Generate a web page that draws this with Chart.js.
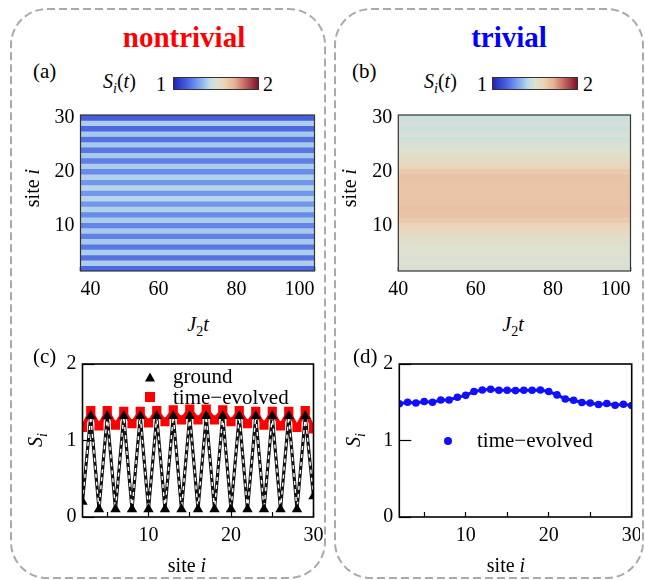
<!DOCTYPE html>
<html>
<head>
<meta charset="utf-8">
<script src="https://cdn.jsdelivr.net/npm/chart.js@4.4.1/dist/chart.umd.min.js"></script>
<style>
    body { margin: 0; background: #fff; }
    #fig {
        position: relative; width: 645px; height: 580px; overflow: hidden;
        font-family: 'Liberation Serif', 'Tinos', 'Times New Roman', 'DejaVu Serif', serif; color: #000;
    }
    #fig canvas, #fig svg { position: absolute; }
    .t { position: absolute; white-space: nowrap; line-height: 1; }
    .c { transform: translate(-50%, -50%); }
    .l { transform: translateY(-50%); }
    .rot { transform: translate(-50%, -50%) rotate(-90deg); }
    .cbar { position: absolute; height: 13px; border: 1px solid #333; box-sizing: border-box; }
    .tri { position: absolute; width: 0; height: 0; border-left: 5px solid transparent;
           border-right: 5px solid transparent; border-bottom: 9px solid #000; transform: translate(-50%, -50%); }
    .sq { position: absolute; width: 10px; height: 10px; background: #f00; transform: translate(-50%, -50%); }
    .dot { position: absolute; width: 8px; height: 8px; border-radius: 50%; background: #1010ff; transform: translate(-50%, -50%); }
</style>
</head>
<body>
<div id="fig">
    <svg width="645" height="580">
        <rect x="11" y="9" width="314" height="569" rx="36" fill="none" stroke="#aaa" stroke-width="2" stroke-dasharray="8 4"/>
        <rect x="335" y="9" width="308" height="569" rx="36" fill="none" stroke="#aaa" stroke-width="2" stroke-dasharray="8 4"/>
    </svg>

    <canvas id="heatA" width="305" height="200" style="left:20px;top:105px"></canvas>
    <canvas id="heatB" width="305" height="200" style="left:335px;top:105px"></canvas>
    <canvas id="lineC" width="305" height="210" style="left:20px;top:354px"></canvas>
    <canvas id="lineD" width="305" height="210" style="left:335px;top:354px"></canvas>

    <div class="t c" style="left:184px;top:37px;font-size:29px;font-weight:bold;color:#f00">nontrivial</div>
    <div class="t c" style="left:509px;top:37px;font-size:29px;font-weight:bold;color:#00f">trivial</div>

    <div class="t l" style="left:33px;top:71px;font-size:21px">(a)</div>
    <div class="t l" style="left:352px;top:71px;font-size:21px">(b)</div>
    <div class="t l" style="left:33px;top:356px;font-size:21px">(c)</div>
    <div class="t l" style="left:353px;top:356px;font-size:21px">(d)</div>

    <!-- colour bars -->
    <div class="t l" style="left:103px;top:83px;font-size:20px"><i>S<sub style="font-size:14px">i</sub></i>(<i>t</i>)</div>
    <div class="t c" style="left:161px;top:84px;font-size:20px">1</div>
    <div class="cbar" id="cbarA" style="left:173px;top:77px;width:86px"></div>
    <div class="t c" style="left:268px;top:84px;font-size:20px">2</div>

    <div class="t l" style="left:424px;top:83px;font-size:20px"><i>S<sub style="font-size:14px">i</sub></i>(<i>t</i>)</div>
    <div class="t c" style="left:482px;top:84px;font-size:20px">1</div>
    <div class="cbar" id="cbarB" style="left:492px;top:77px;width:86px"></div>
    <div class="t c" style="left:588px;top:84px;font-size:20px">2</div>

    <!-- axis titles -->
    <div class="t rot" style="left:32px;top:188px;font-size:20px">site <i>i</i></div>
    <div class="t rot" style="left:349px;top:188px;font-size:20px">site <i>i</i></div>
    <div class="t c" style="left:198px;top:326px;font-size:20px"><i>J</i><sub style="font-size:14px">2</sub><i>t</i></div>
    <div class="t c" style="left:513px;top:326px;font-size:20px"><i>J</i><sub style="font-size:14px">2</sub><i>t</i></div>
    <div class="t rot" style="left:37px;top:440px;font-size:20px"><i>S<sub style="font-size:14px">i</sub></i></div>
    <div class="t rot" style="left:355px;top:440px;font-size:20px"><i>S<sub style="font-size:14px">i</sub></i></div>
    <div class="t c" style="left:187px;top:565px;font-size:20px">site <i>i</i></div>
    <div class="t c" style="left:506px;top:565px;font-size:20px">site <i>i</i></div>

    <!-- legends -->
    <div class="tri" style="left:150px;top:377px"></div>
    <div class="t l" style="left:173px;top:376px;font-size:21px">ground</div>
    <div class="sq" style="left:150px;top:397px"></div>
    <div class="t l" style="left:173px;top:397px;font-size:21px">time−evolved</div>
    <div class="dot" style="left:448px;top:441px"></div>
    <div class="t l" style="left:477px;top:440px;font-size:21px">time−evolved</div>
</div>

<script>
// ---- data ----
const sites = [2, 3, 4, 5, 6, 7, 8, 9, 10, 11, 12, 13, 14, 15, 16,
               17, 18, 19, 20, 21, 22, 23, 24, 25, 26, 27, 28, 29, 30];

// (c) ground state, nontrivial
const groundS = [0.20, 1.32, 0.10, 1.32, 0.10, 1.32, 0.10, 1.32, 0.10, 1.32, 0.10, 1.32, 0.10, 1.32, 0.10,
                 1.32, 0.10, 1.32, 0.10, 1.32, 0.10, 1.32, 0.10, 1.32, 0.10, 1.32, 0.10, 1.32, 0.27];

// (c) / (a) time-evolved, nontrivial
const evolvedNontrivial = [1.17, 1.39, 1.19, 1.39, 1.20, 1.38, 1.22, 1.38, 1.23, 1.39, 1.245, 1.40, 1.27, 1.41, 1.27,
                           1.41, 1.27, 1.40, 1.245, 1.39, 1.22, 1.38, 1.20, 1.38, 1.19, 1.38, 1.17, 1.39, 1.15];

// (d) / (b) time-evolved, trivial
const evolvedTrivial = [1.48, 1.50, 1.49, 1.51, 1.50, 1.53, 1.53, 1.565, 1.59, 1.64, 1.66, 1.67, 1.657, 1.657, 1.652,
                        1.657, 1.657, 1.661, 1.64, 1.596, 1.543, 1.526, 1.496, 1.491, 1.47, 1.483, 1.461, 1.474, 1.457];

const timeRange = [40, 100];
const timeTicks = [40, 60, 80, 100];
const heatSiteTicks = [10, 20, 30];
const siteTicks = [5, 10, 15, 20, 25, 30];
const siteLabels = [10, 20, 30];
const sTicks = [0, 1, 2];

// colour map for S between 1 and 2 (blue -> pale -> red)
const cmapStops = [
    [0.00, [38, 34, 185]],
    [0.15, [70, 95, 225]],
    [0.30, [125, 165, 240]],
    [0.42, [188, 220, 232]],
    [0.50, [222, 225, 208]],
    [0.60, [236, 212, 184]],
    [0.72, [230, 178, 148]],
    [0.85, [195, 100, 95]],
    [1.00, [125, 20, 40]]
];

function colormap(s) {
    const t = Math.min(1, Math.max(0, s - 1));
    for (let k = 1; k < cmapStops.length; k++) {
        const [t1, c1] = cmapStops[k];
        const [t0, c0] = cmapStops[k - 1];
        if (t <= t1) {
            const f = (t - t0) / (t1 - t0);
            const c = c0.map((v, j) => Math.round(v + f * (c1[j] - v)));
            return `rgb(${c[0]},${c[1]},${c[2]})`;
        }
    }
    return 'rgb(125,20,40)';
}

const gradient = 'linear-gradient(to right,' +
    cmapStops.map(([t]) => `${colormap(1 + t)} ${t * 100}%`).join(',') + ')';
document.getElementById('cbarA').style.background = gradient;
document.getElementById('cbarB').style.background = gradient;

const tickFont = { family: "'Liberation Serif', 'Tinos', 'Times New Roman', 'DejaVu Serif', serif", size: 20 };

// box around the plot area
const framePlugin = {
    id: 'frame',
    afterDatasetsDraw(chart, args, opts) {
        const a = chart.chartArea;
        const ctx = chart.ctx;
        ctx.save();
        ctx.strokeStyle = opts.color || '#000';
        ctx.lineWidth = opts.width || 1;
        ctx.strokeRect(a.left, a.top, a.right - a.left, a.bottom - a.top);
        ctx.restore();
    }
};

// per-label text alignment on the x axis (edge labels pulled inward)
const labelAlignPlugin = {
    id: 'labelAlign',
    beforeDraw(chart, args, opts) {
        if (!opts.x) return;
        chart.scales.x.getLabelItems().forEach(item => {
            if (opts.x[item.label]) item.options.textAlign = opts.x[item.label];
        });
    }
};

Chart.register(framePlugin, labelAlignPlugin);

function fixed(list) {
    return scale => { scale.ticks = list.map(v => ({ value: v })); };
}

// pin the axis box sizes so the plot area lands where it should
function fitX(h) {
    return s => { s.height = h; s.paddingLeft = 0; s.paddingRight = 0; };
}
function fitY(w) {
    return s => { s.width = w; s.paddingTop = 0; s.paddingBottom = 0; };
}

/**
 * Heat map drawn as one floating horizontal bar per site
 */
function renderHeatmap(id, values, yWidth, padRight, align) {
    new Chart(document.getElementById(id), {
        type: 'bar',
        data: {
            datasets: [{
                data: sites.map(s => ({ x: timeRange, y: s })),
                backgroundColor: values.map(colormap),
                borderWidth: 0,
                barPercentage: 1,
                categoryPercentage: 1
            }]
        },
        options: {
            indexAxis: 'y',
            responsive: false,
            animation: false,
            events: [],
            layout: { autoPadding: false, padding: { top: 10, right: padRight, left: 0, bottom: 0 } },
            plugins: {
                legend: { display: false },
                tooltip: { enabled: false },
                frame: { color: '#333', width: 1.2 },
                labelAlign: { x: align }
            },
            scales: {
                x: {
                    type: 'linear', min: 40, max: 100, z: 1,
                    afterBuildTicks: fixed(timeTicks),
                    afterFit: fitX(34),
                    ticks: { font: tickFont, color: '#000', padding: 11, autoSkip: false, maxRotation: 0 },
                    grid: { drawOnChartArea: false, tickLength: -4, color: '#222', tickWidth: 1.5 },
                    border: { display: false }
                },
                y: {
                    type: 'linear', min: 1.5, max: 30.5, offset: false,
                    afterBuildTicks: fixed(heatSiteTicks),
                    afterFit: fitY(yWidth),
                    ticks: { font: tickFont, color: '#000', padding: 6, autoSkip: false },
                    grid: { display: false, drawTicks: false },
                    border: { display: false }
                }
            }
        }
    });
}

function lineScales(yWidth) {
    return {
        x: {
            type: 'linear', min: 2, max: 30,
            afterBuildTicks: fixed(siteTicks),
            afterFit: fitX(47),
            ticks: {
                font: tickFont, color: '#000', padding: 12, autoSkip: false, maxRotation: 0,
                callback: v => siteLabels.includes(v) ? String(v) : ''
            },
            grid: { drawOnChartArea: false, tickLength: -5, color: '#000', tickWidth: 1.2 },
            border: { display: false }
        },
        y: {
            type: 'linear', min: 0, max: 2,
            afterBuildTicks: fixed(sTicks),
            afterFit: fitY(yWidth),
            ticks: { font: tickFont, color: '#000', padding: 18, autoSkip: false },
            grid: { drawOnChartArea: false, tickLength: -12, color: '#000', tickWidth: 1.2 },
            border: { display: false }
        }
    };
}

const baseOptions = {
    responsive: false,
    animation: false,
    events: [],
    plugins: {
        legend: { display: false },
        tooltip: { enabled: false },
        frame: { color: '#000', width: 1.6 }
    }
};

function points(values) {
    return sites.map((s, k) => ({ x: s, y: values[k] }));
}

// (c) nontrivial: ground state and time-evolved
new Chart(document.getElementById('lineC'), {
    type: 'scatter',
    data: {
        datasets: [
            {   // ground markers
                data: points(groundS), showLine: false, order: 0,
                pointStyle: 'triangle', pointRadius: 6, backgroundColor: '#000', borderWidth: 0
            },
            {   // white dashes running inside the ground line
                data: points(groundS), showLine: true, order: 1, pointRadius: 0,
                borderColor: '#fff', borderWidth: 1.4, borderDash: [4, 4]
            },
            {   // ground line
                data: points(groundS), showLine: true, order: 2, pointRadius: 0,
                borderColor: '#111', borderWidth: 3.2
            },
            {   // time-evolved
                data: points(evolvedNontrivial), showLine: true, order: 3,
                borderColor: '#f00', borderWidth: 4,
                pointStyle: 'rect', pointRadius: 6.5, backgroundColor: '#f00', pointBorderWidth: 0
            }
        ]
    },
    options: {
        ...baseOptions,
        layout: { autoPadding: false, padding: { top: 10, right: 11.5, left: 0, bottom: 0 } },
        scales: lineScales(62.5)
    }
});

// (d) trivial: time-evolved
new Chart(document.getElementById('lineD'), {
    type: 'scatter',
    data: {
        datasets: [{
            data: points(evolvedTrivial), showLine: true,
            borderColor: '#1010ff', borderWidth: 3,
            pointStyle: 'circle', pointRadius: 3.8, backgroundColor: '#1010ff', pointBorderWidth: 0
        }]
    },
    options: {
        ...baseOptions,
        layout: { autoPadding: false, padding: { top: 10, right: 8.3, left: 0, bottom: 0 } },
        scales: lineScales(64.3)
    }
});

renderHeatmap('heatA', evolvedNontrivial, 60.5, 10.5, { '40': 'left', '100': 'right' });
renderHeatmap('heatB', evolvedTrivial, 63.3, 9.5, { '100': 'right' });
</script>
</body>
</html>
